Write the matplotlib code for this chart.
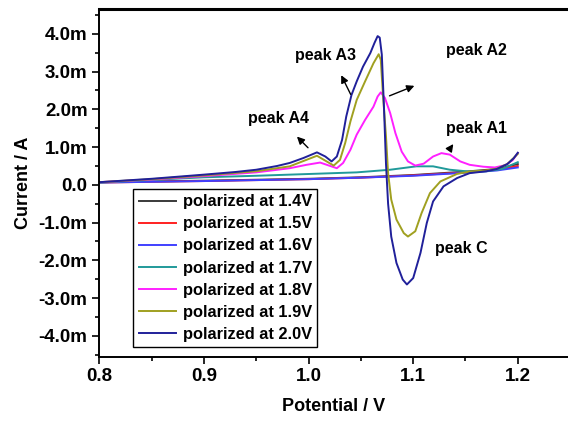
import numpy as np
import matplotlib.pyplot as plt
from matplotlib.ticker import MultipleLocator, FuncFormatter

plt.rcParams['font.family'] = ['Liberation Sans', 'DejaVu Sans']
plt.rcParams['font.weight'] = 'bold'

# potential (V) and current (mA)
v_base = [0.80, 0.90, 1.00, 1.05, 1.10, 1.15, 1.18, 1.20]
i_14 = [0.07, 0.11, 0.16, 0.20, 0.26, 0.35, 0.42, 0.55]
i_15 = [0.06, 0.10, 0.15, 0.19, 0.25, 0.33, 0.40, 0.50]
i_16 = [0.06, 0.10, 0.15, 0.19, 0.24, 0.32, 0.38, 0.46]

v_17 = [0.80, 0.85, 0.90, 0.95, 0.982, 1.046, 1.078, 1.103, 1.119, 1.135,
        1.154, 1.170, 1.185, 1.200]
i_17 = [0.06, 0.13, 0.20, 0.24, 0.27, 0.33, 0.40, 0.49, 0.49, 0.40,
        0.35, 0.36, 0.42, 0.60]

v_18 = [0.80, 0.85, 0.90, 0.95, 0.982, 0.998, 1.011, 1.027, 1.033, 1.040,
        1.046, 1.054, 1.062, 1.066, 1.069, 1.073, 1.078, 1.083, 1.089, 1.095,
        1.102, 1.110, 1.119, 1.127, 1.135, 1.145, 1.154, 1.167, 1.178, 1.188,
        1.195, 1.200]
i_18 = [0.07, 0.14, 0.23, 0.33, 0.44, 0.53, 0.59, 0.44, 0.58, 0.93,
        1.33, 1.72, 2.07, 2.34, 2.45, 2.30, 1.90, 1.37, 0.88, 0.62,
        0.51, 0.56, 0.75, 0.84, 0.80, 0.62, 0.53, 0.48, 0.46, 0.52,
        0.65, 0.84]

v_19 = [0.80, 0.85, 0.90, 0.95, 0.982, 1.008, 1.024, 1.030, 1.035, 1.040,
        1.046, 1.054, 1.062, 1.067, 1.069, 1.071, 1.074, 1.076, 1.079, 1.084,
        1.091, 1.095, 1.102, 1.108, 1.116, 1.126, 1.142, 1.154, 1.170, 1.180,
        1.190, 1.200]
i_19 = [0.07, 0.15, 0.25, 0.36, 0.49, 0.77, 0.51, 0.66, 1.11, 1.68,
        2.25, 2.74, 3.22, 3.46, 3.31, 2.43, 1.28, 0.31, -0.39, -0.92,
        -1.28, -1.37, -1.23, -0.75, -0.22, 0.09, 0.29, 0.35, 0.38, 0.43,
        0.55, 0.82]

v_20 = [0.80, 0.85, 0.90, 0.93, 0.95, 0.97, 0.982, 0.995, 1.008, 1.016,
        1.022, 1.027, 1.032, 1.036, 1.041, 1.046, 1.052, 1.059, 1.063, 1.066,
        1.068, 1.070, 1.072, 1.074, 1.076, 1.079, 1.084, 1.090, 1.094, 1.100,
        1.107, 1.113, 1.119, 1.129, 1.142, 1.154, 1.170, 1.180, 1.190, 1.196,
        1.200]
i_20 = [0.07, 0.16, 0.27, 0.34, 0.40, 0.50, 0.58, 0.71, 0.86, 0.75,
        0.62, 0.75, 1.19, 1.81, 2.38, 2.74, 3.13, 3.49, 3.76, 3.94,
        3.90, 3.45, 2.10, 0.55, -0.50, -1.37, -2.07, -2.51, -2.64, -2.47,
        -1.80, -1.01, -0.44, -0.04, 0.18, 0.31, 0.36, 0.42, 0.55, 0.70,
        0.85]

series = [
    (v_base, i_14, '#3a3a3a', 'polarized at 1.4V'),
    (v_base, i_15, '#ff2020', 'polarized at 1.5V'),
    (v_base, i_16, '#4040ff', 'polarized at 1.6V'),
    (v_17, i_17, '#209a9a', 'polarized at 1.7V'),
    (v_18, i_18, '#ff20ff', 'polarized at 1.8V'),
    (v_19, i_19, '#a0a020', 'polarized at 1.9V'),
    (v_20, i_20, '#20209a', 'polarized at 2.0V'),
]

fig = plt.figure(figsize=(5.68, 4.25), dpi=100)
ax = fig.add_axes([0.175, 0.161, 0.825, 0.818])

for v, cur, col, lab in series:
    ax.plot(v, cur, color=col, lw=1.4, label=lab, solid_joinstyle='round')

ax.set_xlim(0.8, 1.248)
ax.set_ylim(-4.55, 4.66)

ax.xaxis.set_major_locator(MultipleLocator(0.1))
ax.xaxis.set_minor_locator(MultipleLocator(0.05))
ax.yaxis.set_major_locator(MultipleLocator(1.0))
ax.yaxis.set_minor_locator(MultipleLocator(0.5))
ax.xaxis.set_major_formatter(FuncFormatter(lambda x, p: f"{x:.1f}"))
ax.yaxis.set_major_formatter(FuncFormatter(lambda y, p: "0.0" if abs(y) < 1e-9 else f"{y:.1f}m"))
ax.tick_params(axis='both', which='major', direction='out', length=5, width=1.2, labelsize=13.5)
ax.tick_params(axis='both', which='minor', direction='out', length=3, width=1.2)
ax.tick_params(top=False, right=False, which='both')

ax.spines['right'].set_visible(False)
ax.spines['top'].set_linewidth(2.2)
ax.spines['left'].set_linewidth(1.4)
ax.spines['bottom'].set_linewidth(1.4)

ax.set_xlabel("Potential / V", fontsize=13, fontweight='bold', labelpad=9)
ax.set_ylabel("Current / A", fontsize=13, fontweight='bold', labelpad=5)

arrow = dict(arrowstyle='-|>', color='black', lw=1.0, mutation_scale=11)
ax.annotate("", xy=(0.9870, 1.33), xytext=(1.0013, 0.93), arrowprops=arrow)
ax.annotate("", xy=(1.0300, 2.97), xytext=(1.0414, 2.33), arrowprops=arrow)
ax.annotate("", xy=(1.1036, 2.65), xytext=(1.0749, 2.33), arrowprops=arrow)
ax.annotate("", xy=(1.1399, 1.14), xytext=(1.1332, 0.88), arrowprops=arrow)

ax.text(0.942, 1.64, "peak A4", fontsize=11.5, fontweight='bold')
ax.text(0.987, 3.31, "peak A3", fontsize=11.5, fontweight='bold')
ax.text(1.131, 3.44, "peak A2", fontsize=11.5, fontweight='bold')
ax.text(1.131, 1.38, "peak A1", fontsize=11.5, fontweight='bold')
ax.text(1.121, -1.80, "peak C", fontsize=11.5, fontweight='bold')

leg = ax.legend(loc='upper left', bbox_to_anchor=(0.0715, 0.483), fontsize=11.8,
                frameon=True, fancybox=False, edgecolor='black', framealpha=1,
                handlelength=2.25, handletextpad=0.43, labelspacing=0.43,
                borderpad=0.35, borderaxespad=0)
leg.get_frame().set_linewidth(1.0)
for t in leg.get_texts():
    t.set_fontweight('bold')

fig.savefig("out.png", dpi=100)
